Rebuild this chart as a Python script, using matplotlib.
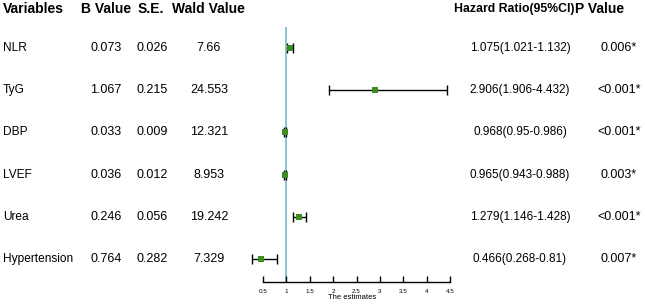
import matplotlib
matplotlib.use("Agg")
import matplotlib.pyplot as plt
from matplotlib.transforms import blended_transform_factory

plt.rcParams['font.family'] = ['Liberation Sans', 'DejaVu Sans']

variables = ["NLR", "TyG", "DBP", "LVEF", "Urea", "Hypertension"]
b_value = ["0.073", "1.067", "0.033", "0.036", "0.246", "0.764"]
se = ["0.026", "0.215", "0.009", "0.012", "0.056", "0.282"]
wald = ["7.66", "24.553", "12.321", "8.953", "19.242", "7.329"]
hr = [1.075, 2.906, 0.968, 0.965, 1.279, 0.466]
lo = [1.021, 1.906, 0.95, 0.943, 1.146, 0.268]
hi = [1.132, 4.432, 0.986, 0.988, 1.428, 0.81]
hr_text = ["1.075(1.021-1.132)", "2.906(1.906-4.432)", "0.968(0.95-0.986)",
           "0.965(0.943-0.988)", "1.279(1.146-1.428)", "0.466(0.268-0.81)"]
p_text = ["0.006*", "<0.001*", "<0.001*", "0.003*", "<0.001*", "0.007*"]
xticks = [0.5, 1, 1.5, 2, 2.5, 3, 3.5, 4, 4.5]
xticklabels = ["0.5", "1", "1.5", "2", "2.5", "3", "3.5", "4", "4.5"]

W, H = 645, 307
fig = plt.figure(figsize=(W / 100, H / 100), dpi=100)

# axes: 0.5 -> px 263, 4.5 -> px 450
x0_px, x1_px = 263, 450
ux = (x1_px - x0_px) / 4.0
xmin, xmax = 0.2, 4.6
left_px = x0_px - (0.5 - xmin) * ux
right_px = x1_px + (xmax - 4.5) * ux
bottom_px, top_px = 282, 27
ax = fig.add_axes([left_px / W, 1 - bottom_px / H, (right_px - left_px) / W, (bottom_px - top_px) / H])
ax.set_xlim(xmin, xmax)
ax.set_ylim(0.45, 6.5)

n = len(variables)
ys = [n - i for i in range(n)]

ax.axvline(1, color='#7fc0d0', lw=1.3, zorder=1)
for y, h, l, u in zip(ys, hr, lo, hi):
    ax.errorbar([h], [y], xerr=[[h - l], [u - h]], fmt='none', ecolor='black',
                elinewidth=1.0, capsize=3.5, capthick=1.0, zorder=2)
ax.scatter(hr, ys, marker='s', s=14, color='#3c8c1e', zorder=3, linewidths=0)

for s in ['top', 'right', 'left']:
    ax.spines[s].set_visible(False)
ax.spines['bottom'].set_bounds(0.5, 4.5)
ax.spines['bottom'].set_linewidth(1.0)
ax.set_yticks([])
ax.set_xticks(xticks)
ax.set_xticklabels(xticklabels, fontsize=4.5)
ax.tick_params(axis='x', direction='in', length=4, width=1.0, pad=5)
ax.set_xlabel("The estimates", fontsize=5.5, labelpad=0)

trans = blended_transform_factory(fig.transFigure, ax.transData)
for y, v, b, s_, w, ht, pt in zip(ys, variables, b_value, se, wald, hr_text, p_text):
    fig.text(3 / W, y, v, transform=trans, fontsize=8.6, va='center', ha='left')
    fig.text(106 / W, y, b, transform=trans, fontsize=9, va='center', ha='center')
    fig.text(152 / W, y, s_, transform=trans, fontsize=9, va='center', ha='center')
    fig.text(209 / W, y, w, transform=trans, fontsize=9, va='center', ha='center')
    fig.text(520 / W, y, ht, transform=trans, fontsize=8.5, va='center', ha='center')
    fig.text(619 / W, y, pt, transform=trans, fontsize=9, va='center', ha='center')

hy = 1 - 9 / H
fig.text(3 / W, hy, "Variables", fontsize=10, fontweight='bold', va='center', ha='left')
fig.text(81 / W, hy, "B Value", fontsize=10, fontweight='bold', va='center', ha='left')
fig.text(138 / W, hy, "S.E.", fontsize=10, fontweight='bold', va='center', ha='left')
fig.text(172 / W, hy, "Wald Value", fontsize=10, fontweight='bold', va='center', ha='left')
fig.text(454 / W, hy, "Hazard Ratio(95%CI)", fontsize=8.8, fontweight='bold', va='center', ha='left')
fig.text(575 / W, hy, "P Value", fontsize=10, fontweight='bold', va='center', ha='left')

fig.savefig("out.png", dpi=100)
